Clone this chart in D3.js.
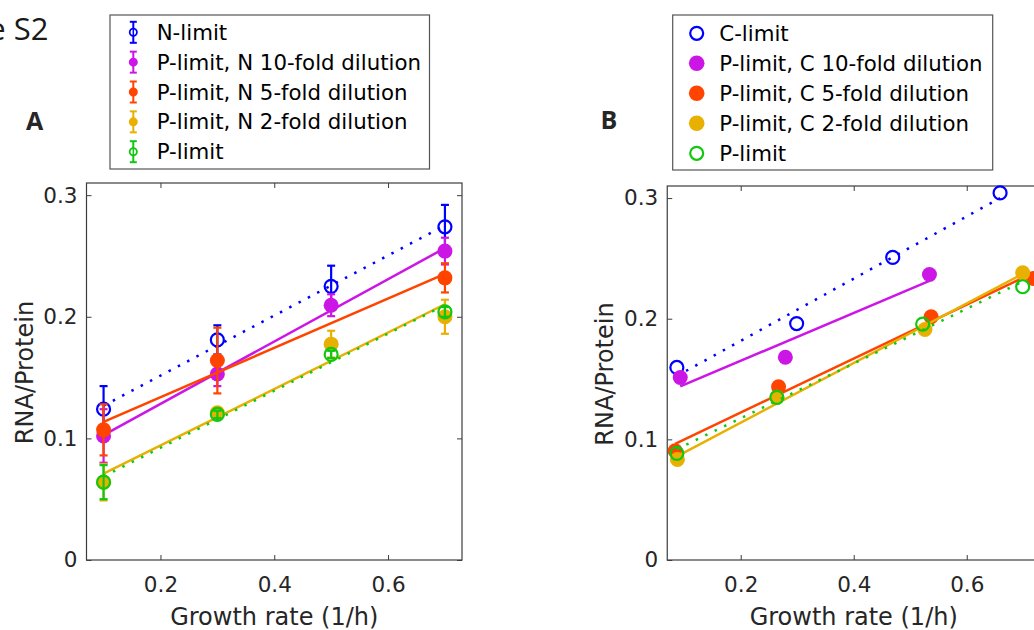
<!DOCTYPE html>
<html><head><meta charset="utf-8">
<script src="https://cdn.jsdelivr.net/npm/d3@7"></script>
<style>
body{margin:0;background:#fff}
svg{display:block;background:#fff}
</style>
</head><body>
<svg id="chart" width="1034" height="630"></svg>
<script>
// ---------- data ----------
const xTicks = [0.2, 0.4, 0.6];
const yTicks = [0, 0.1, 0.2, 0.3];
const xDomain = [0.07, 0.73];
const yDomain = [0, 0.31];

// Panel A (growth rates shared)
const growthA = [0.1, 0.3, 0.5, 0.7];
const nLimitA = [0.124, 0.181, 0.225, 0.274];
const nLimitErrA = [0.019, 0.012, 0.017, 0.018];
const pN10A = [0.102, 0.153, 0.2095, 0.254];
const pN10ErrA = [0.022, 0.010, 0.009, 0.011];
const pN5A = [0.107, 0.164, null, 0.232];
const pN5ErrA = [0.021, 0.027, null, 0.012];
const pN2A = [0.064, 0.121, 0.1775, 0.200];
const pN2ErrA = [0.015, 0.004, 0.011, 0.014];
const pLimA = [0.064, 0.1197, 0.169, 0.204];
const pLimErrA = [0.014, 0.003, 0.003, 0.004];
const labelsA = ["N-limit", "P-limit, N 10-fold dilution", "P-limit, N 5-fold dilution", "P-limit, N 2-fold dilution", "P-limit"];

// Panel B
const cLimBx = [0.087, 0.299, 0.469, 0.659];
const cLimBy = [0.1596, 0.196, 0.2508, 0.3043];
const pC10Bx = [0.093, 0.279, 0.534];
const pC10By = [0.1513, 0.168, 0.2367];
const pC5Bx = [0.084, 0.267, 0.537, 0.718];
const pC5By = [0.0906, 0.1436, 0.2016, 0.2334];
const pC2Bx = [0.088, 0.264, 0.526, 0.699];
const pC2By = [0.0834, 0.1348, 0.1911, 0.238];
const pLimBx = [0.087, 0.264, 0.522, 0.699];
const pLimBy = [0.0884, 0.1348, 0.1955, 0.2265];
const labelsB = ["C-limit", "P-limit, C 10-fold dilution", "P-limit, C 5-fold dilution", "P-limit, C 2-fold dilution", "P-limit"];

// ---------- styles ----------
const COL = {blue:"#0000ff", magenta:"#cc16e6", red:"#ff4400", yellow:"#e8b000", green:"#10c810"};
const AXC = "#3c3c3c", TXC = "#262626";
const FONT = "'DejaVu Sans', sans-serif";

const seriesA = [
  {name:labelsA[0], x:growthA, y:nLimitA, err:nLimitErrA, color:COL.blue, open:true, dotted:true},
  {name:labelsA[1], x:growthA, y:pN10A, err:pN10ErrA, color:COL.magenta, open:false, dotted:false},
  {name:labelsA[2], x:growthA, y:pN5A, err:pN5ErrA, color:COL.red, open:false, dotted:false},
  {name:labelsA[3], x:growthA, y:pN2A, err:pN2ErrA, color:COL.yellow, open:false, dotted:false},
  {name:labelsA[4], x:growthA, y:pLimA, err:pLimErrA, color:COL.green, open:true, dotted:true}
];
const seriesB = [
  {name:labelsB[0], x:cLimBx, y:cLimBy, color:COL.blue, open:true, dotted:true},
  {name:labelsB[1], x:pC10Bx, y:pC10By, color:COL.magenta, open:false, dotted:false},
  {name:labelsB[2], x:pC5Bx, y:pC5By, color:COL.red, open:false, dotted:false},
  {name:labelsB[3], x:pC2Bx, y:pC2By, color:COL.yellow, open:false, dotted:false},
  {name:labelsB[4], x:pLimBx, y:pLimBy, color:COL.green, open:true, dotted:true}
];

const svg = d3.select("#chart");
svg.append("rect").attr("width",1034).attr("height",630).attr("fill","#fff");

// scales
const xA = d3.scaleLinear().domain(xDomain).range([86.5, 462]);
const yA = d3.scaleLinear().domain(yDomain).range([560, 183]);
const xB = d3.scaleLinear().domain(xDomain).range([667.25, 1040.2]);
const yB = d3.scaleLinear().domain(yDomain).range([560, 186]);

function fit(xs, ys){
  const pts = xs.map((x,i)=>[x, ys[i]]).filter(p=>p[1]!=null);
  const mx = d3.mean(pts,p=>p[0]), my = d3.mean(pts,p=>p[1]);
  const sxy = d3.sum(pts,p=>(p[0]-mx)*(p[1]-my)), sxx = d3.sum(pts,p=>(p[0]-mx)**2);
  const b = sxy/sxx, a = my - b*mx;
  const x0 = d3.min(pts,p=>p[0]), x1 = d3.max(pts,p=>p[0]);
  return [[x0, a+b*x0],[x1, a+b*x1]];
}

function drawAxes(x, y, ylabX){
  const [x0,x1] = x.range(), [y0,y1] = y.range();
  const styleAxis = g => {
    g.attr("font-family", FONT).attr("font-size", 21.5);
    g.select(".domain").remove();
    g.selectAll(".tick line").attr("stroke", AXC).attr("stroke-width", 1);
    g.selectAll(".tick text").attr("fill", TXC);
  };
  svg.append("g").attr("transform",`translate(0,${y0})`)
    .call(d3.axisBottom(x).tickValues(xTicks).tickFormat(d3.format(".1f")).tickSizeInner(-5).tickSizeOuter(0).tickPadding(17))
    .call(styleAxis);
  svg.append("g").attr("transform",`translate(0,${y1})`)
    .call(d3.axisTop(x).tickValues(xTicks).tickFormat(()=>"").tickSizeInner(-5).tickSizeOuter(0))
    .call(styleAxis);
  svg.append("g").attr("transform",`translate(${x0},0)`)
    .call(d3.axisLeft(y).tickValues(yTicks).tickFormat(d=>d===0?"0":d3.format(".1f")(d)).tickSizeInner(-5).tickSizeOuter(0).tickPadding(9))
    .call(styleAxis);
  svg.append("g").attr("transform",`translate(${x1},0)`)
    .call(d3.axisRight(y).tickValues(yTicks).tickFormat(()=>"").tickSizeInner(-5).tickSizeOuter(0))
    .call(styleAxis);
  svg.append("rect").attr("x",x0).attr("y",y1).attr("width",x1-x0).attr("height",y0-y1)
    .attr("fill","none").attr("stroke",AXC).attr("stroke-width",1.2);
  svg.append("text").attr("x",(x0+x1)/2).attr("y",625).attr("text-anchor","middle")
    .attr("font-family",FONT).attr("font-size",24).attr("fill",TXC).text("Growth rate (1/h)");
  svg.append("text").attr("transform",`translate(${ylabX},${(y0+y1)/2+1}) rotate(-90)`).attr("text-anchor","middle")
    .attr("font-family",FONT).attr("font-size",24).attr("fill",TXC).text("RNA/Protein");
}

function drawSeries(series, x, y, withErr){
  series.forEach(s=>{
    const g = svg.append("g");
    const pts = s.x.map((xv,i)=>({x:xv, y:s.y[i], e:withErr? s.err[i] : null})).filter(p=>p.y!=null);
    if(withErr){
      pts.forEach(p=>{
        g.append("line").attr("x1",x(p.x)).attr("x2",x(p.x)).attr("y1",y(p.y-p.e)).attr("y2",y(p.y+p.e))
          .attr("stroke",s.color).attr("stroke-width",2.2);
        [p.y-p.e, p.y+p.e].forEach(v=>{
          g.append("line").attr("x1",x(p.x)-4).attr("x2",x(p.x)+4).attr("y1",y(v)).attr("y2",y(v))
            .attr("stroke",s.color).attr("stroke-width",2.2);
        });
      });
    }
    g.selectAll("circle").data(pts).join("circle")
      .attr("cx",d=>x(d.x)).attr("cy",d=>y(d.y))
      .attr("r", s.open ? 6.5 : 7.5)
      .attr("fill", s.open ? "none" : s.color)
      .attr("stroke", s.open ? s.color : "none")
      .attr("stroke-width", 2.2);
    const f = fit(s.x, s.y);
    g.append("path").attr("d", d3.line().x(d=>x(d[0])).y(d=>y(d[1]))(f))
      .attr("fill","none").attr("stroke",s.color).attr("stroke-width",2.5)
      .attr("stroke-dasharray", s.dotted ? "2.5,8" : null);
  });
}

function drawLegend(series, bx, by, bw, bh, mx, tx, row0, step, errIcon){
  svg.append("rect").attr("x",bx).attr("y",by).attr("width",bw).attr("height",bh)
    .attr("fill","#fff").attr("stroke","#555").attr("stroke-width",1.2);
  series.forEach((s,i)=>{
    const cy = row0 + i*step;
    if(errIcon){
      svg.append("line").attr("x1",mx).attr("x2",mx).attr("y1",cy-10.5).attr("y2",cy+10.5).attr("stroke",s.color).attr("stroke-width",2);
      [cy-10.5, cy+10.5].forEach(v=>svg.append("line").attr("x1",mx-3.5).attr("x2",mx+3.5).attr("y1",v).attr("y2",v).attr("stroke",s.color).attr("stroke-width",2));
      svg.append("circle").attr("cx",mx).attr("cy",cy).attr("r",3.6)
        .attr("fill", s.open ? "#fff" : s.color).attr("stroke", s.color).attr("stroke-width",1.8);
      if(s.open) svg.append("line").attr("x1",mx).attr("x2",mx).attr("y1",cy-3.6).attr("y2",cy+3.6).attr("stroke",s.color).attr("stroke-width",1.5);
    } else {
      svg.append("circle").attr("cx",mx).attr("cy",cy).attr("r", s.open ? 6.5 : 7.8)
        .attr("fill", s.open ? "none" : s.color).attr("stroke", s.open ? s.color : "none").attr("stroke-width",2.2);
    }
    svg.append("text").attr("x",tx).attr("y",cy+7.6).attr("font-family",FONT).attr("font-size",21.3)
      .attr("fill","#000").text(s.name);
  });
}

// Panel A
drawAxes(xA, yA, 33);
drawSeries(seriesA, xA, yA, true);
// Panel B
drawAxes(xB, yB, 613);
drawSeries(seriesB, xB, yB, false);

drawLegend(seriesA, 110, 15, 319.5, 154, 133.3, 156.7, 32.3, 29.85, true);
drawLegend(seriesB, 672.7, 15, 320, 155, 696.7, 719.3, 33.3, 30, false);

// Titles / panel letters
svg.append("text").attr("x",48.5).attr("y",40).attr("text-anchor","end")
  .attr("font-family","'Open Sans', sans-serif").attr("font-size",31).attr("fill","#1a1a1a").text("Figure S2");
svg.append("text").attr("x",26).attr("y",129.5)
  .attr("font-family","'Open Sans', sans-serif").attr("font-weight","bold").attr("font-size",25).attr("fill","#262626").text("A");
svg.append("text").attr("x",600.5).attr("y",128.5)
  .attr("font-family","'Open Sans', sans-serif").attr("font-weight","bold").attr("font-size",25).attr("fill","#262626").text("B");
</script>
</body></html>
